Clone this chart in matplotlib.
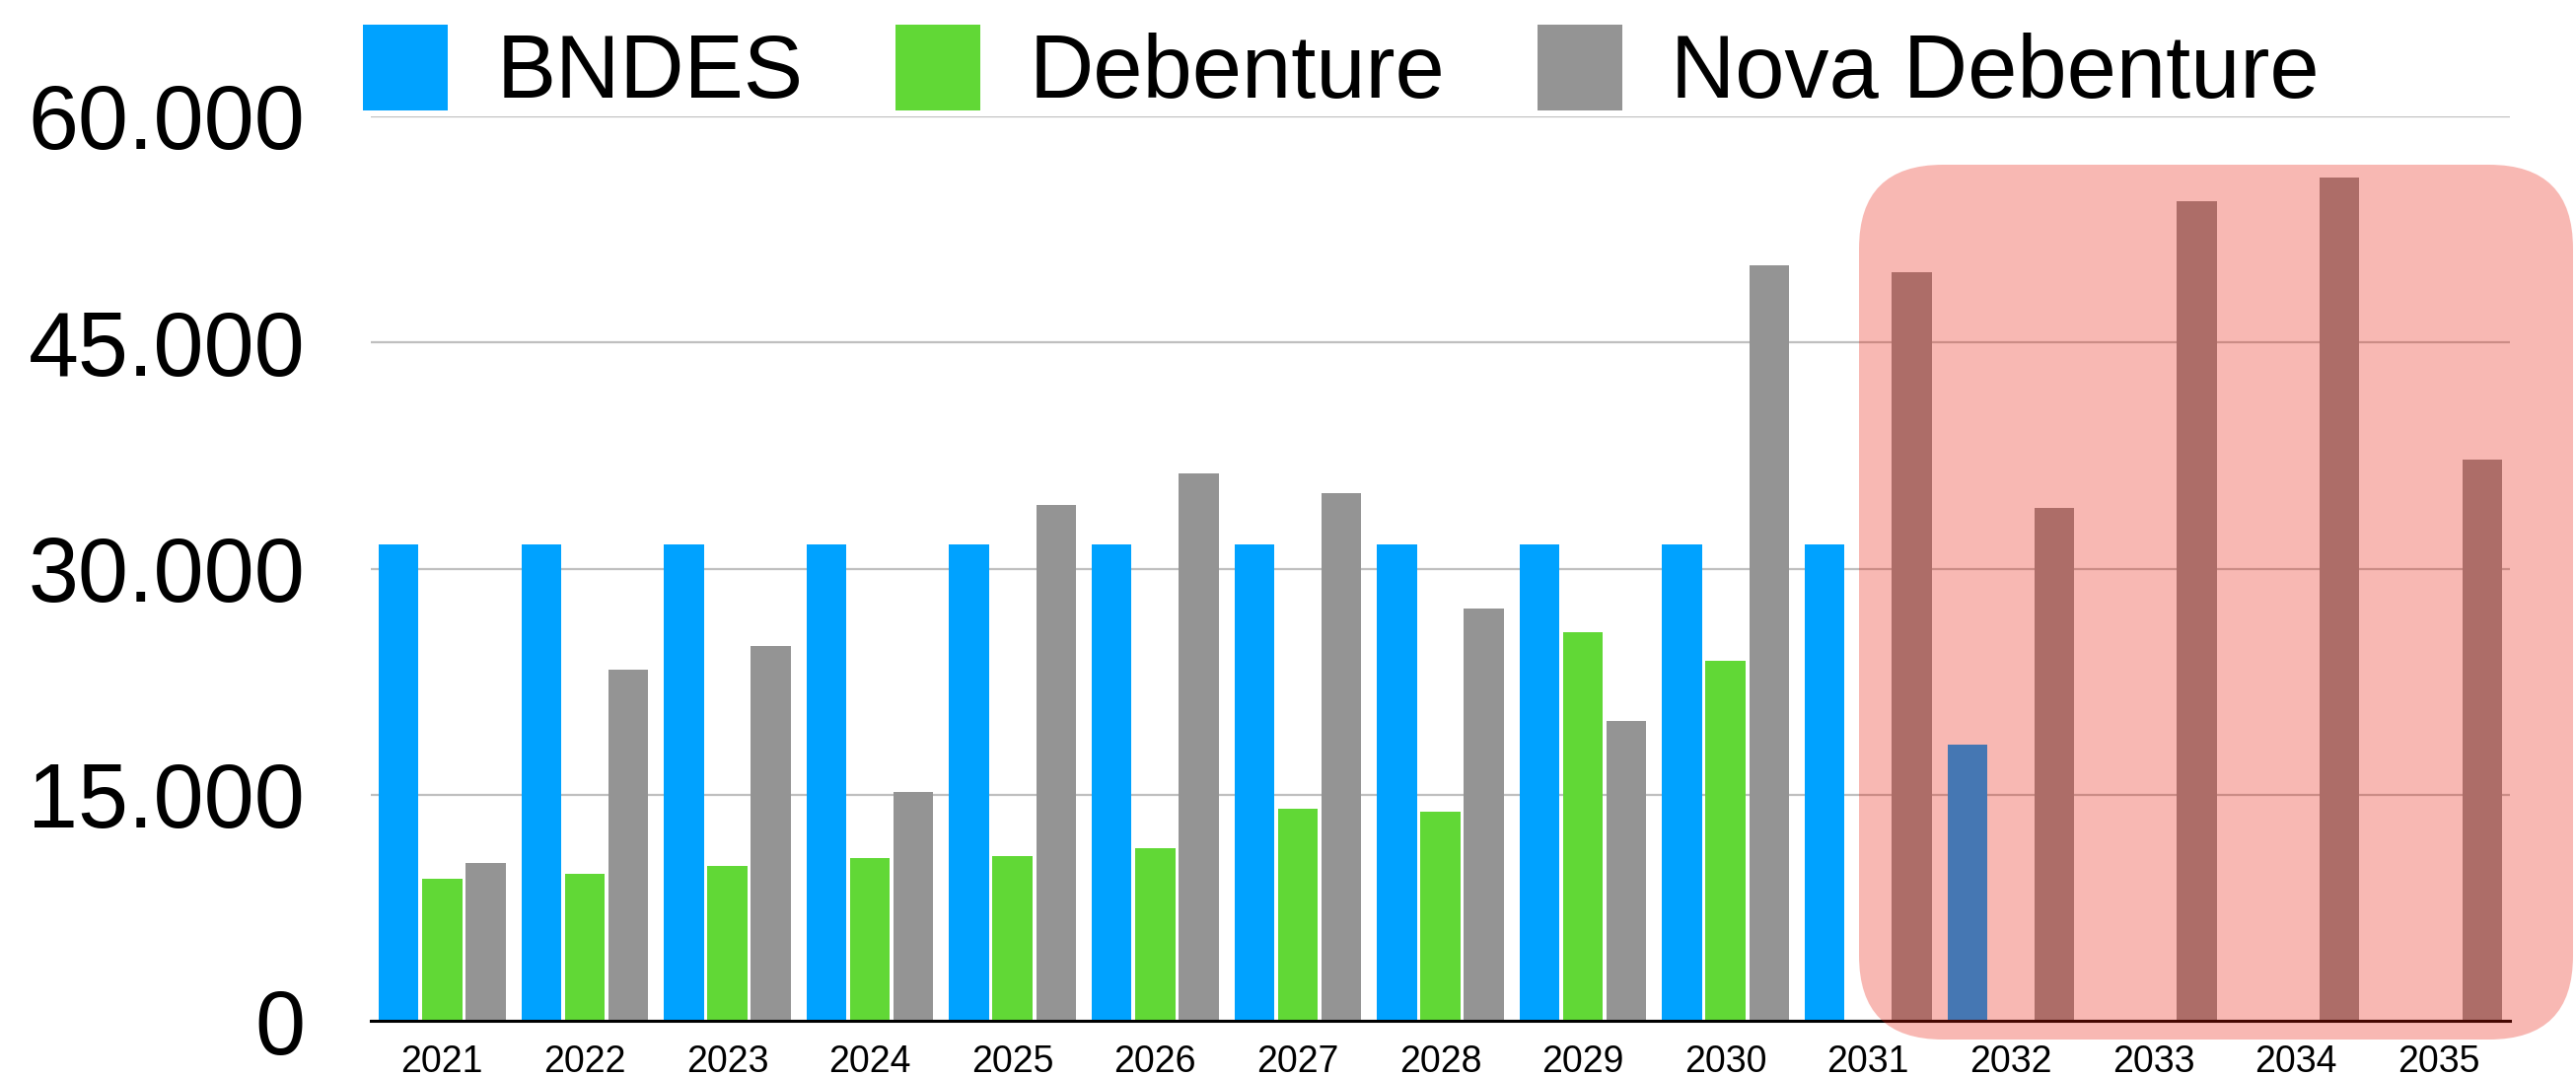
import matplotlib.pyplot as plt
import numpy as np
from matplotlib.patches import FancyBboxPatch
from matplotlib.transforms import IdentityTransform
from matplotlib.ticker import FuncFormatter

plt.rcParams['font.family'] = ['Liberation Sans', 'DejaVu Sans']

# data
years = ['2021', '2022', '2023', '2024', '2025', '2026', '2027', '2028',
         '2029', '2030', '2031', '2032', '2033', '2034', '2035']
bndes = [31600, 31600, 31600, 31600, 31600, 31600, 31600, 31600,
         31600, 31600, 31600, 18300, 0, 0, 0]
debenture = [9400, 9750, 10300, 10800, 10950, 11450, 14100, 13900,
             25800, 23900, 0, 0, 0, 0, 0]
nova_debenture = [10450, 23300, 24850, 15200, 34250, 36300, 35000, 27350,
                  19900, 50150, 49650, 34050, 54400, 55950, 37200]

series_labels = ['BNDES', 'Debenture', 'Nova Debenture']
colors = ['#00A2FF', '#61D836', '#949494']

W, H, DPI = 2612, 1092, 100
fig = plt.figure(figsize=(W / DPI, H / DPI), dpi=DPI)
ax = fig.add_axes([376 / W, 57 / H, (2545 - 376) / W, (1035 - 118) / H])

x = np.arange(len(years))
bar_width = 0.28
offset = 0.305
ax.bar(x - offset, bndes, width=bar_width, color=colors[0], label=series_labels[0], zorder=2)
ax.bar(x, debenture, width=bar_width, color=colors[1], label=series_labels[1], zorder=2)
ax.bar(x + offset, nova_debenture, width=bar_width, color=colors[2], label=series_labels[2], zorder=2)

ax.set_xlim(-0.5, len(years) - 0.5)
ax.set_ylim(0, 60000)
ax.set_yticks([0, 15000, 30000, 45000, 60000])
ax.yaxis.set_major_formatter(FuncFormatter(lambda v, p: f'{int(v):,}'.replace(',', '.')))
ax.set_xticks(x)
ax.set_xticklabels(years)

ax.grid(axis='y', color='#BFBFBF', linewidth=1.6, zorder=0)
ax.set_axisbelow(True)
for side in ['top', 'right', 'left']:
    ax.spines[side].set_visible(False)
ax.spines['bottom'].set_linewidth(2.2)
ax.spines['bottom'].set_color('black')
ax.spines['bottom'].set_zorder(3)

ax.tick_params(axis='y', length=0, labelsize=66, pad=48)
ax.tick_params(axis='x', length=0, labelsize=27, pad=17)

fig.legend(loc='upper left', bbox_to_anchor=(368 / W, 1 - 25 / H), ncol=3,
           frameon=False, fontsize=65, handlelength=0.955, handleheight=1.11,
           handletextpad=0.55, columnspacing=1.03, borderpad=0, borderaxespad=0)

# highlight box over the later years (pixel coordinates)
box = FancyBboxPatch((1885, H - 1054), 2609 - 1885, 1054 - 167,
                     boxstyle='round,pad=0,rounding_size=85',
                     transform=IdentityTransform(), facecolor='#E81605',
                     edgecolor='none', alpha=0.3, zorder=10)
fig.add_artist(box)

fig.savefig('out.png', dpi=DPI)
